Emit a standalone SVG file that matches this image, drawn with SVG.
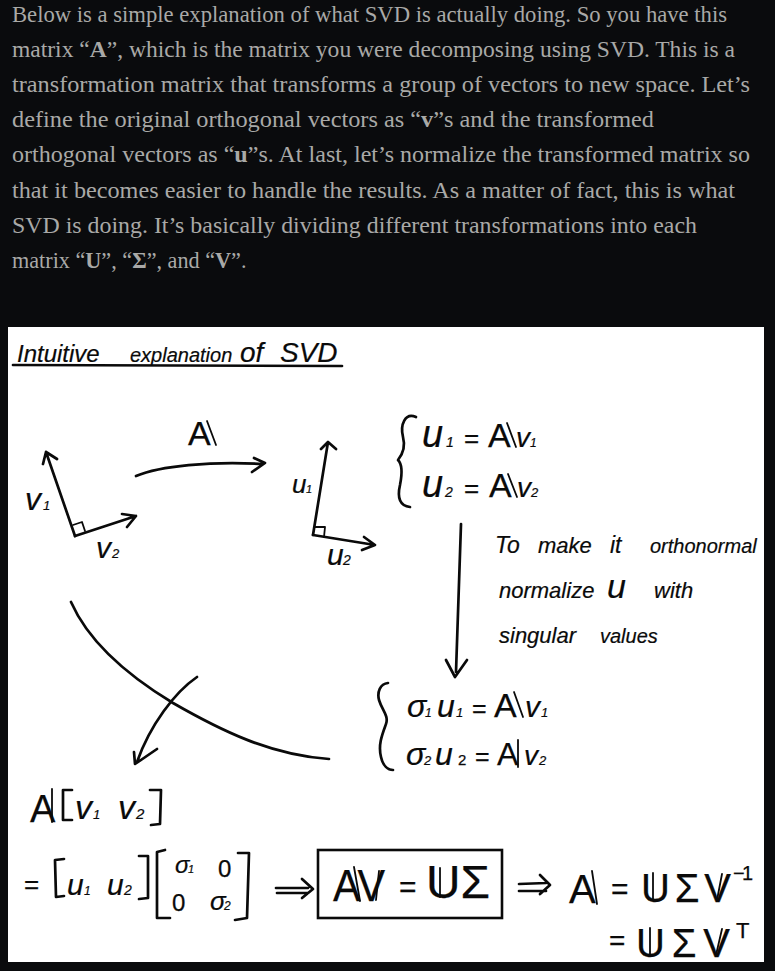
<svg xmlns="http://www.w3.org/2000/svg" width="775" height="971" viewBox="0 0 775 971">
<style>
.b{font-family:"Liberation Serif",serif;font-size:24px;fill:#a9a9a7}
.b tspan{font-weight:700}
.l8{font-size:22.2px}
.h{font-family:"Liberation Sans",sans-serif;fill:#0a0a0a;stroke:#0a0a0a;stroke-width:.25}
.n{font-family:"Liberation Sans",sans-serif;fill:#0a0a0a;font-style:italic;stroke:#0a0a0a;stroke-width:.2}
.s{fill:none;stroke:#0a0a0a;stroke-width:2.7;stroke-linecap:round;stroke-linejoin:round}
.t{fill:none;stroke:#0a0a0a;stroke-width:1.8;stroke-linecap:round;stroke-linejoin:round}
</style>
<rect width="775" height="971" fill="#0a0b0d"/>
<g id="paragraph">
<text class="b" x="12" y="22" textLength="715" lengthAdjust="spacingAndGlyphs">Below is a simple explanation of what SVD is actually doing. So you have this</text>
<text class="b" x="12" y="57" textLength="723" lengthAdjust="spacingAndGlyphs">matrix “<tspan>A</tspan>”, which is the matrix you were decomposing using SVD. This is a</text>
<text class="b" x="12" y="92" textLength="738" lengthAdjust="spacingAndGlyphs">transformation matrix that transforms a group of vectors to new space. Let’s</text>
<text class="b" x="12" y="127" textLength="642" lengthAdjust="spacingAndGlyphs">define the original orthogonal vectors as “<tspan>v</tspan>”s and the transformed</text>
<text class="b" x="12" y="162" textLength="738" lengthAdjust="spacingAndGlyphs">orthogonal vectors as “<tspan>u</tspan>”s. At last, let’s normalize the transformed matrix so</text>
<text class="b" x="12" y="198" textLength="723" lengthAdjust="spacingAndGlyphs">that it becomes easier to handle the results. As a matter of fact, this is what</text>
<text class="b" x="12" y="233" textLength="685" lengthAdjust="spacingAndGlyphs">SVD is doing. It’s basically dividing different transformations into each</text>
<text class="b l8" x="12" y="268">matrix “<tspan>U</tspan>”, “<tspan>Σ</tspan>”, and “<tspan>V</tspan>”.</text>
</g>
<rect id="panel" x="8" y="327" width="756" height="635" fill="#fff"/>
<g id="title">
<text class="n" y="362"><tspan x="17" font-size="24">Intuitive</tspan> <tspan x="130" font-size="20">explanation</tspan> <tspan x="240" font-size="28">of</tspan> <tspan x="280" font-size="28">SVD</tspan></text>
<path class="s" d="M13 365L342 366"/>
</g>
<g id="connectors">
<path class="s" d="M75 536L46 452M43 464L46 452L57 459"/>
<path class="s" d="M75 536L136 516M122 514L136 516L127 527"/>
<path class="t" d="M73 525L82 522L85 531"/>
<path class="s" d="M136 476C160 466 210 461 263 464M254 458L265 463L252 472"/>
<path class="s" d="M313 535L328 442M321 449L328 442L336 449"/>
<path class="s" d="M313 535L375 545M364 537L375 545L362 550"/>
<path class="t" d="M315 527L325 527L324 537"/>
<path class="s" d="M461 524L456 672M446 660L455 677L467 660"/>
<path class="s" d="M71 602C90 645 135 680 173 703C220 730 270 755 329 759"/>
<path class="s" d="M197 677C175 692 150 725 137 762M134 752L135 764L157 749"/>
<path class="s" d="M276 888L308 888M277 893L308 893M302 879L313 889L302 898"/>
<path class="s" d="M519 884L546 883M519 891L546 891M540 875L550 885L540 894"/>
</g>
<g id="labels">
<text class="n" font-size="32" y="510"><tspan x="25">v</tspan><tspan x="43" font-size="13">1</tspan></text>
<text class="n" font-size="30" y="558"><tspan x="96">v</tspan><tspan x="112" font-size="13">2</tspan></text>
<text class="n" font-size="26" y="493"><tspan x="292">u</tspan><tspan x="306" font-size="11">1</tspan></text>
<text class="n" font-size="30" y="565"><tspan x="327">u</tspan><tspan x="343" font-size="14">2</tspan></text>
<text class="h" x="188" y="445" font-size="34">A</text>
<path class="t" d="M207 421L216 445"/>
</g>
<g id="eq1">
<path class="s" d="M416 417C405 412 400 425 403 437C406 448 402 455 398 460C403 465 402 475 400 485C397 498 400 506 410 507"/>
<text class="n" font-size="38" y="447"><tspan x="422">u</tspan><tspan x="446" font-size="14">1</tspan></text>
<text class="h" x="464" y="447" font-size="26">=</text>
<text class="h" x="488" y="447" font-size="34">A</text>
<path class="t" d="M507 423L516 447"/>
<text class="n" font-size="28" y="447"><tspan x="516">v</tspan><tspan x="530" font-size="12">1</tspan></text>
<text class="n" font-size="38" y="497"><tspan x="422">u</tspan><tspan x="445" font-size="14">2</tspan></text>
<text class="h" x="464" y="497" font-size="26">=</text>
<text class="h" x="489" y="497" font-size="34">A</text>
<path class="t" d="M508 474L517 497"/>
<text class="n" font-size="28" y="497"><tspan x="517">v</tspan><tspan x="531" font-size="13">2</tspan></text>
</g>
<g id="note">
<text class="n" y="553" font-size="23"><tspan x="495">To</tspan> <tspan x="538" font-size="22">make</tspan> <tspan x="610">it</tspan> <tspan x="650" font-size="20">orthonormal</tspan></text>
<text class="n" y="598" font-size="22"><tspan x="499">normalize</tspan> <tspan x="607" font-size="34">u</tspan> <tspan x="654">with</tspan></text>
<text class="n" y="643" font-size="22"><tspan x="499">singular</tspan> <tspan x="600" font-size="20">values</tspan></text>
</g>
<g id="eq2">
<path class="s" d="M388 683C380 684 377 692 379 700C382 710 389 716 386 724C382 735 378 745 381 757C383 766 388 770 393 770"/>
<text class="n" font-size="32" y="717"><tspan x="407">σ</tspan><tspan x="425" font-size="12">1</tspan><tspan x="437">u</tspan><tspan x="456" font-size="13">1</tspan></text>
<text class="h" x="472" y="717" font-size="25">=</text>
<text class="h" x="494" y="717" font-size="34">A</text>
<path class="t" d="M514 692L523 717"/>
<text class="n" font-size="30" y="717"><tspan x="525">v</tspan><tspan x="541" font-size="13">1</tspan></text>
<text class="n" font-size="32" y="765"><tspan x="406">σ</tspan><tspan x="424" font-size="13">2</tspan><tspan x="435">u</tspan></text>
<text class="h" x="458" y="765" font-size="15">2</text>
<text class="h" x="475" y="765" font-size="25">=</text>
<text class="h" x="497" y="765" font-size="32">A</text>
<path class="t" d="M518 740L518 767"/>
<text class="n" font-size="28" y="765"><tspan x="524">v</tspan><tspan x="539" font-size="13">2</tspan></text>
</g>
<g id="eq3">
<text class="h" x="30" y="822" font-size="38">A</text>
<path class="t" d="M52 789L52 822"/>
<path class="s" d="M72 790L63 790L63 820L72 820M150 790L161 790L160 824L151 825"/>
<text class="n" font-size="34" y="819"><tspan x="75">v</tspan><tspan x="93" font-size="13">1</tspan><tspan x="118">v</tspan><tspan x="136" font-size="15">2</tspan></text>
</g>
<g id="eq4">
<text class="h" x="24" y="893" font-size="26">=</text>
<path class="s" d="M64 859L55 860L56 897L64 896M139 856L148 856L148 898L139 899"/>
<text class="n" font-size="30" y="895"><tspan x="67">u</tspan><tspan x="84" font-size="12">1</tspan><tspan x="107">u</tspan><tspan x="124" font-size="14">2</tspan></text>
<path class="s" d="M165 850L157 852L157 918L170 918M238 853L249 853L247 918L235 920"/>
<text class="n" font-size="24" y="873"><tspan x="175">σ</tspan><tspan x="188" font-size="11">1</tspan></text>
<text class="h" x="218" y="877" font-size="24">0</text>
<text class="h" x="172" y="911" font-size="24">0</text>
<text class="n" font-size="26" y="910"><tspan x="210">σ</tspan><tspan x="224" font-size="12">2</tspan></text>
</g>
<g id="boxed">
<rect x="318" y="850" width="184" height="68" fill="none" stroke="#0a0a0a" stroke-width="2.6"/>
<text class="h" x="333" y="901" font-size="44" textLength="52" lengthAdjust="spacingAndGlyphs">AV</text>
<path class="t" d="M354 867L360 901M379 871L376 900"/>
<text class="h" x="399" y="897" font-size="30">=</text>
<text class="h" x="426" y="898" font-size="46" textLength="64" lengthAdjust="spacingAndGlyphs">UΣ</text>
<path class="t" d="M440 868L440 897"/>
</g>
<g id="eq5">
<text class="h" x="569" y="903" font-size="40">A</text>
<path class="t" d="M592 871L597 904"/>
<text class="h" x="611" y="899" font-size="30">=</text>
<text class="h" x="641" y="902" font-size="40" textLength="90" lengthAdjust="spacing">UΣV</text>
<path class="t" d="M653 873L653 900M722 874L717 900"/>
<text class="h" x="733" y="880" font-size="20" textLength="20" lengthAdjust="spacing">−1</text>
<text class="h" x="609" y="950" font-size="28">=</text>
<text class="h" x="636" y="957" font-size="40" textLength="94" lengthAdjust="spacing">UΣV</text>
<path class="t" d="M650 928L650 955M722 929L716 955"/>
<text class="h" x="736" y="938" font-size="22">T</text>
</g>
</svg>
